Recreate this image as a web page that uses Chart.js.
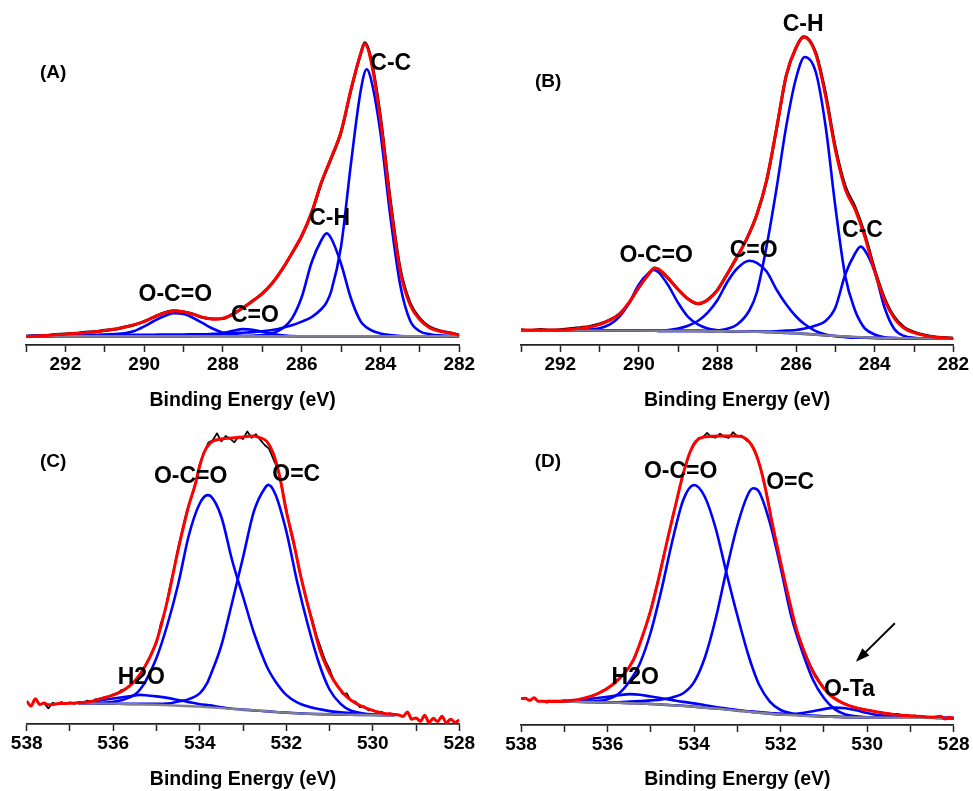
<!DOCTYPE html>
<html>
<head>
<meta charset="utf-8">
<title>XPS C 1s / O 1s curve fitting</title>
<script src="https://cdn.jsdelivr.net/npm/chart.js@4.4.1/dist/chart.umd.min.js"></script>
<style>
  body { margin: 0; background: #fff; }
  #figure { position: relative; width: 973px; height: 791px; }
  #figure canvas { position: absolute; }
</style>
</head>
<body>
<div id="figure">
  <canvas id="panelA" width="486" height="412" style="left:0;top:0"></canvas>
  <canvas id="panelB" width="487" height="412" style="left:486px;top:0"></canvas>
  <canvas id="panelC" width="486" height="379" style="left:0;top:412px"></canvas>
  <canvas id="panelD" width="487" height="378" style="left:486px;top:413px"></canvas>
</div>
<script>
// ---------- C 1s, sample A ----------
const energyA = [293, 292.75, 292.5, 292.25, 292, 291.75, 291.5, 291.25, 291, 290.75, 290.5, 290.25, 290, 289.75, 289.5, 289.25,
  289, 288.75, 288.5, 288.25, 288, 287.75, 287.5, 287.25, 287, 286.75, 286.5, 286.25, 286, 285.75, 285.5, 285.25, 285,
  284.75, 284.5, 284.4, 284.25, 284, 283.75, 283.5, 283.25, 283, 282.75, 282.5, 282.25, 282];
const measuredA = [2.9, 3.1, 3.1, 3.5, 3.7, 3.8, 4.3, 4.4, 4.9, 5.2, 6.0, 6.7, 7.9, 9.3, 10.7, 11.4, 11.0, 10.3, 9.1, 8.7,
  8.8, 10.3, 12.3, 14.7, 17.1, 20.6, 25.1, 30.5, 36.3, 44.0, 54.1, 62.3, 71.0, 85.0, 97.2, 100.8, 95.9, 75.9, 48.2, 25.4,
  14.0, 8.8, 6.0, 4.8, 4.1, 3.4];
const envelopeA = [2.8, 3.0, 3.2, 3.4, 3.6, 3.9, 4.1, 4.4, 4.8, 5.3, 5.9, 6.8, 7.8, 9.4, 10.6, 11.3, 11.1, 10.2, 9.2, 8.6,
  8.9, 10.2, 12.4, 14.6, 17.2, 20.6, 25.2, 30.6, 36.5, 44.2, 54.3, 62.5, 71.2, 85.2, 97.3, 100.4, 95.2, 75.0, 47.2, 24.6,
  13.4, 8.4, 5.7, 4.6, 4.0, 3.3];
const peakEnergyA = [293, 292, 291, 290.5, 290.25, 290, 289.75, 289.5, 289.25, 289, 288.75, 288.5, 288.25, 288, 287.75,
  287.5, 287.25, 287, 286.75, 286.5, 286.25, 286, 285.75, 285.5, 285.37, 285.25, 285, 284.75, 284.5, 284.35, 284.25, 284,
  283.75, 283.5, 283.25, 283, 282.75, 282.5, 282];
const peakCC_A = [3.0, 3.1, 3.3, 3.3, 3.4, 3.4, 3.4, 3.5, 3.5, 3.5, 3.6, 3.6, 3.7, 3.8, 3.9, 4.1, 4.3, 4.6, 5.0, 5.7,
  6.6, 7.8, 9.3, 12.0, 14.2, 18.0, 33.0, 60.5, 85.0, 91.9, 89.0, 70.6, 42.8, 20.0, 8.2, 4.6, 3.6, 3.2, 3.0];
const peakCH_A = [2.9, 2.9, 2.9, 2.9, 2.9, 2.9, 2.9, 2.9, 2.9, 2.9, 2.9, 2.9, 2.9, 2.9, 2.9, 3.0, 3.1, 3.3, 3.9, 5.4,
  8.8, 16.0, 27.5, 35.0, 37.2, 35.5, 27.0, 15.5, 7.8, 5.8, 5.0, 3.8, 3.3, 3.0, 2.9, 2.9, 2.9, 2.9, 2.9];
const peakOCO_A = [2.9, 3.1, 3.5, 3.9, 4.7, 6.2, 8.0, 9.6, 10.6, 10.3, 9.0, 7.2, 5.4, 4.1, 3.4, 3.0, 2.9, 2.9, 2.9, 2.9,
  2.9, 2.9, 2.9, 2.9, 2.9, 2.9, 2.9, 2.9, 2.9, 2.9, 2.9, 2.9, 2.9, 2.9, 2.9, 2.9, 2.9, 2.9, 2.9];
const peakCO_A = [2.9, 2.9, 2.9, 2.9, 2.9, 2.9, 2.9, 2.9, 2.9, 2.9, 3.0, 3.1, 3.4, 4.0, 4.7, 5.3, 5.1, 4.4, 3.7, 3.2,
  3.0, 2.9, 2.9, 2.9, 2.9, 2.9, 2.9, 2.9, 2.9, 2.9, 2.9, 2.9, 2.9, 2.9, 2.9, 2.9, 2.9, 2.9, 2.9];
const backgroundEnergyA = [293, 282];
const backgroundA = [2.9, 2.9];

// ---------- C 1s, sample B ----------
const energyB = [293, 292.75, 292.5, 292.25, 292, 291.75, 291.5, 291.25, 291, 290.75, 290.5, 290.25, 290, 289.75, 289.6,
  289.5, 289.25, 289, 288.75, 288.5, 288.25, 288, 287.75, 287.5, 287.25, 287, 286.75, 286.5, 286.25, 286, 285.8, 285.5,
  285.25, 285, 284.75, 284.5, 284.25, 284, 283.75, 283.5, 283.25, 283, 282.75, 282.5, 282.25, 282];
const measuredB = [5.1, 4.8, 5.2, 4.9, 5.1, 5.4, 5.8, 6.2, 7.0, 8.3, 10.3, 14.0, 19.3, 23.7, 25.7, 25.2, 22.1, 18.5, 15.4,
  13.7, 15.1, 18.4, 23.7, 29.4, 35.5, 43.4, 54.8, 71.8, 89.8, 99.1, 102.8, 97.4, 83.8, 65.8, 52.9, 46.0, 36.8, 25.1, 15.6,
  9.3, 5.9, 4.3, 3.4, 2.8, 2.5, 2.3];
const envelopeB = [5.0, 5.0, 5.0, 5.0, 5.0, 5.2, 5.6, 6.0, 6.9, 8.2, 10.2, 14.2, 19.2, 23.6, 25.6, 25.3, 22.3, 18.4, 15.3,
  13.8, 15.0, 18.3, 23.8, 29.4, 35.6, 43.5, 55.0, 72.0, 90.0, 99.2, 102.6, 97.0, 83.0, 65.0, 52.0, 45.2, 36.0, 24.5, 15.0,
  8.9, 5.6, 4.1, 3.2, 2.7, 2.4, 2.2];
const peakEnergyB = [293, 292, 291.5, 291.25, 291, 290.75, 290.5, 290.25, 290, 289.75, 289.63, 289.5, 289.25, 289, 288.75,
  288.5, 288.25, 288, 287.75, 287.5, 287.19, 287, 286.75, 286.5, 286.25, 286, 285.78, 285.5, 285.25, 285, 284.75, 284.5,
  284.36, 284.25, 284, 283.75, 283.5, 283.25, 283, 282.5, 282];
const peakOCO_B = [4.8, 4.8, 4.9, 5.2, 5.6, 6.8, 9.4, 14.0, 20.2, 24.0, 25.0, 24.2, 19.8, 14.0, 9.4, 6.9, 5.5, 4.9, 4.6,
  4.5, 4.4, 4.4, 4.3, 4.2, 4.0, 3.9, 3.7, 3.5, 3.2, 3.0, 2.8, 2.6, 2.5, 2.5, 2.4, 2.3, 2.3, 2.2, 2.2, 2.1, 2.1];
const peakCO_B = [4.8, 4.8, 4.8, 4.8, 4.8, 4.8, 4.8, 4.8, 4.8, 4.8, 4.8, 4.8, 5.0, 5.5, 6.4, 8.0, 10.8, 15.0, 21.0, 25.5,
  28.1, 27.4, 24.5, 18.5, 13.5, 9.5, 6.9, 4.6, 3.5, 2.9, 2.6, 2.4, 2.4, 2.4, 2.3, 2.3, 2.2, 2.2, 2.2, 2.1, 2.1];
const peakCH_B = [4.8, 4.8, 4.8, 4.8, 4.8, 4.8, 4.8, 4.8, 4.8, 4.8, 4.8, 4.7, 4.7, 4.7, 4.7, 4.7, 4.7, 4.8, 5.4, 6.8,
  11.5, 17.5, 33.0, 52.0, 73.0, 89.0, 96.0, 91.0, 73.0, 46.0, 23.0, 11.5, 7.6, 5.5, 3.5, 2.6, 2.3, 2.2, 2.2, 2.1, 2.1];
const peakCC_B = [4.8, 4.8, 4.8, 4.8, 4.8, 4.8, 4.8, 4.8, 4.8, 4.8, 4.8, 4.7, 4.7, 4.7, 4.7, 4.7, 4.6, 4.6, 4.6, 4.5,
  4.5, 4.5, 4.5, 4.6, 4.8, 5.0, 5.5, 6.5, 8.0, 12.5, 23.5, 30.5, 32.8, 31.5, 24.5, 12.5, 5.3, 3.0, 2.4, 2.1, 2.1];
const backgroundEnergyB = [293, 290, 289, 288, 287, 286, 285, 284, 283, 282];
const backgroundB = [4.8, 4.8, 4.7, 4.6, 4.4, 3.9, 3.0, 2.4, 2.2, 2.1];

// ---------- O 1s scans (C and D share the same energy steps) ----------
const scanEnergyO1s = [
  538, 537.9, 537.8, 537.7, 537.6, 537.5, 537.4, 537.3, 537.2, 537.1,
  537, 536.9, 536.8, 536.7, 536.6, 536.5, 536.4, 536.3, 536.2, 536.1,
  536, 535.9, 535.8, 535.7, 535.6, 535.5, 535.4, 535.3, 535.2, 535.1,
  535, 534.9, 534.8, 534.7, 534.6, 534.5, 534.4, 534.3, 534.2, 534.1,
  534, 533.9, 533.8, 533.7, 533.6, 533.5, 533.4, 533.3, 533.2, 533.1,
  533, 532.9, 532.8, 532.7, 532.6, 532.5, 532.4, 532.3, 532.2, 532.1,
  532, 531.9, 531.8, 531.7, 531.6, 531.5, 531.4, 531.3, 531.2, 531.1,
  531, 530.9, 530.8, 530.7, 530.6, 530.5, 530.4, 530.3, 530.2, 530.1,
  530, 529.9, 529.8, 529.7, 529.6, 529.5, 529.4, 529.3, 529.2, 529.1,
  529, 528.9, 528.8, 528.7, 528.6, 528.5, 528.4, 528.3, 528.2, 528.1,
  528];

// ---------- O 1s, sample C ----------
const measuredC = [
  7.6, 6.0, 8.4, 6.5, 7.0, 5.2, 7.1, 6.6, 7.3, 6.8,
  7.2, 6.7, 7.4, 7.0, 7.8, 7.5, 8.3, 8.2, 9.0, 9.1,
  9.9, 10.3, 11.4, 11.6, 13.2, 14.3, 16.3, 18.6, 20.8, 24.2,
  27.0, 33.5, 37.8, 45.2, 51.6, 58.8, 65.0, 71.0, 75.2, 80.5,
  86.8, 90.5, 93.8, 94.6, 96.9, 94.2, 96.0, 95.1, 93.9, 95.8,
  95.0, 97.5, 95.4, 96.6, 94.7, 93.0, 91.8, 88.4, 85.0, 78.6,
  71.8, 64.0, 58.2, 51.5, 45.0, 39.2, 35.0, 29.5, 25.3, 21.2,
  18.4, 14.4, 12.6, 10.0, 10.2, 7.6, 7.5, 5.6, 5.9, 4.5,
  4.7, 3.8, 4.1, 3.2, 3.6, 2.9, 3.0, 2.5, 4.0, 1.6,
  2.0, 0.9, 2.9, 0.5, 1.9, 0.8, 2.6, 0.4, 1.6, 0.5,
  1.3];
const envelopeEnergyC = [538, 537.9, 537.8, 537.7, 537.6, 537.5, 537.25, 537, 536.75, 536.5, 536.3, 536, 535.75, 535.5,
  535.25, 535, 534.75, 534.5, 534.25, 534.1, 534, 533.9, 533.75, 533.5, 533.25, 533, 532.75, 532.6, 532.45, 532.3, 532.15,
  532, 531.84, 531.68, 531.53, 531.37, 531.22, 531.07, 530.91, 530.68, 530.45, 530.14, 529.76, 529.5, 529.4, 529.3, 529.2,
  529.1, 529, 528.9, 528.8, 528.7, 528.6, 528.5, 528.4, 528.3, 528.2, 528.1, 528];
const envelopeC = [7.6, 6.0, 8.4, 6.5, 7.0, 6.4, 6.8, 6.9, 7.1, 7.5, 8.4, 9.6, 11.3, 14.3, 19.6, 27.5, 41.0, 58.0, 73.0,
  80.0, 86.0, 90.5, 93.8, 95.0, 95.3, 95.7, 96.0, 95.4, 94.2, 90.2, 82.5, 71.0, 61.3, 50.2, 41.3, 32.4, 24.6, 19.1, 14.7,
  10.2, 7.4, 5.2, 3.6, 3.2, 3.0, 2.5, 4.0, 1.6, 2.0, 0.9, 2.9, 0.5, 1.9, 0.8, 2.6, 0.4, 1.6, 0.5, 1.3];
const peakEnergyC = [536.8, 536.5, 536.25, 536, 535.75, 535.5, 535.38, 535.25, 535, 534.75, 534.5, 534.25, 534, 533.82,
  533.75, 533.5, 533.25, 533, 532.75, 532.5, 532.41, 532.25, 532, 531.75, 531.5, 531.25, 531, 530.75, 530.5, 530.25, 530,
  529.5];
const peakOCO_C = [6.9, 6.9, 7.1, 7.4, 8.2, 9.8, 11.5, 14.3, 22.0, 33.0, 46.5, 63.0, 73.5, 76.3, 76.0, 69.0, 54.5, 42.5,
  30.5, 20.8, 18.0, 14.2, 9.7, 7.2, 5.8, 5.0, 4.3, 3.9, 3.6, 3.3, 3.1, 3.0];
const peakOC_C = [6.9, 6.9, 6.8, 6.8, 6.7, 6.7, 6.7, 6.7, 6.7, 6.8, 7.5, 8.3, 10.2, 13.9, 16.3, 26.2, 40.6, 55.5, 70.8,
  78.5, 79.7, 76.5, 64.3, 47.5, 33.0, 20.5, 11.5, 6.8, 4.4, 3.6, 3.2, 3.0];
const peakH2O_C = [7.0, 7.5, 8.0, 8.5, 9.0, 9.5, 9.7, 9.6, 9.2, 8.7, 8.0, 7.3, 6.6, 6.3, 6.2, 5.6, 5.1, 4.8, 4.5, 4.3,
  4.2, 4.0, 3.8, 3.6, 3.4, 3.3, 3.2, 3.1, 3.1, 3.0, 3.0, 3.0];
const backgroundEnergyC = [536.8, 536, 535.5, 535, 534.5, 534, 533.5, 533, 532.5, 532, 531.5, 531, 530.5, 530, 529.5];
const backgroundC = [6.9, 6.8, 6.6, 6.4, 6.1, 5.8, 5.3, 4.8, 4.3, 3.8, 3.4, 3.2, 3.1, 3.0, 3.0];

// ---------- O 1s, sample D ----------
const measuredD = [
  8.8, 8.9, 8.2, 9.1, 7.9, 8.0, 7.4, 8.1, 7.6, 7.9,
  8.2, 7.7, 8.5, 8.3, 8.9, 9.0, 9.6, 9.9, 10.7, 11.6,
  12.1, 13.4, 14.8, 15.9, 17.6, 19.3, 22.0, 25.6, 29.5, 33.4,
  38.8, 44.5, 50.1, 56.8, 62.5, 69.4, 74.8, 81.2, 86.0, 90.8,
  93.5, 95.6, 95.9, 97.4, 96.0, 95.8, 97.1, 96.1, 95.7, 97.6,
  96.2, 96.5, 95.0, 94.0, 91.8, 87.6, 82.3, 75.6, 68.1, 61.0,
  54.2, 47.5, 41.6, 35.2, 30.4, 26.5, 22.8, 19.6, 16.9, 14.6,
  12.5, 10.8, 9.4, 8.6, 7.6, 7.1, 6.4, 6.0, 5.6, 5.3,
  5.0, 4.8, 4.4, 4.3, 4.0, 3.9, 3.6, 3.7, 3.3, 3.4,
  3.0, 3.2, 2.7, 3.0, 2.5, 2.8, 2.2, 2.9, 1.9, 2.6,
  2.0];
const envelopeEnergyD = [538, 537.9, 537.8, 537.7, 537.6, 537.5, 537.25, 537, 536.6, 536.2, 535.87, 535.64, 535.4, 535.17,
  534.98, 534.79, 534.6, 534.4, 534.25, 534.09, 533.94, 533.71, 533.4, 533.09, 532.86, 532.67, 532.52, 532.36, 532.21,
  532.01, 531.82, 531.63, 531.4, 531.2, 531, 530.86, 530.47, 530.01, 529.47, 528.93, 528.47, 528.3, 528.2, 528.1, 528];
const envelopeD = [8.8, 8.9, 8.2, 9.1, 7.9, 7.9, 7.8, 7.9, 8.7, 10.6, 13.6, 16.7, 21.7, 30.6, 39.4, 50.6, 62.8, 75.0, 83.9,
  91.1, 94.8, 96.1, 96.3, 96.3, 95.9, 93.3, 88.3, 79.4, 68.3, 55.0, 42.8, 31.7, 22.5, 16.3, 12.2, 10.0, 6.7, 5.0, 3.7, 3.0,
  2.6, 2.9, 2.0, 2.6, 2.1];
const peakEnergyD = [537.4, 537, 536.5, 536, 535.75, 535.48, 535.25, 535, 534.75, 534.5, 534.25, 534, 533.75, 533.5, 533.25,
  533, 532.75, 532.63, 532.5, 532.25, 532, 531.75, 531.5, 531.25, 531, 530.75, 530.5, 530.25, 530, 529.75, 529.5, 529,
  528.5, 528];
const peakOCO_D = [7.9, 7.8, 7.8, 8.6, 10.3, 14.8, 20.6, 31.0, 45.3, 61.5, 75.0, 80.0, 76.0, 65.5, 50.6, 36.5, 23.5, 18.3,
  13.5, 7.8, 5.0, 3.9, 3.3, 3.0, 2.8, 2.7, 2.6, 2.6, 2.5, 2.5, 2.5, 2.4, 2.4, 2.3];
const peakOC_D = [7.9, 7.8, 7.7, 7.6, 7.6, 7.8, 8.0, 8.2, 8.5, 9.2, 10.6, 14.3, 22.5, 35.5, 51.7, 66.5, 77.0, 78.9, 77.8,
  67.5, 52.5, 36.0, 24.5, 15.0, 9.0, 5.3, 3.5, 2.9, 2.6, 2.5, 2.5, 2.4, 2.4, 2.3];
const peakH2O_D = [8.0, 8.1, 8.6, 9.4, 9.9, 10.3, 10.1, 9.5, 8.9, 8.3, 7.7, 7.2, 6.6, 6.0, 5.5, 5.0, 4.6, 4.5, 4.3, 4.0,
  3.8, 3.5, 3.3, 3.1, 2.9, 2.8, 2.7, 2.6, 2.5, 2.5, 2.5, 2.4, 2.4, 2.3];
const peakOTa_D = [7.9, 7.8, 7.7, 7.5, 7.4, 7.3, 7.2, 7.0, 6.8, 6.6, 6.4, 6.1, 5.8, 5.5, 5.2, 4.8, 4.5, 4.3, 4.1, 3.8,
  3.5, 3.6, 4.0, 4.6, 5.3, 5.8, 5.6, 4.9, 4.0, 3.3, 2.9, 2.5, 2.4, 2.3];
const backgroundEnergyD = [537.4, 537, 536, 535, 534.5, 534, 533.5, 533, 532.5, 532, 531.5, 531, 530.5, 530, 529, 528];
const backgroundD = [7.9, 7.8, 7.5, 7.0, 6.6, 6.1, 5.5, 4.8, 4.1, 3.5, 3.1, 2.8, 2.6, 2.5, 2.4, 2.3];

const FONT = '"Liberation Sans", Arial, Helvetica, sans-serif';
Chart.defaults.font.family = FONT;

function pts(xs, ys) {
  return xs.map((x, i) => ({ x: x, y: ys[i] }));
}

// writes the peak names / panel letter and an optional arrow in data coordinates
const peakLabels = {
  id: 'peakLabels',
  afterDatasetsDraw(chart, args, opts) {
    const ctx = chart.ctx, sx = chart.scales.x, sy = chart.scales.y;
    ctx.save();
    ctx.fillStyle = '#000';
    ctx.strokeStyle = '#000';
    ctx.textAlign = 'center';
    ctx.textBaseline = 'middle';
    (opts.labels || []).forEach(function (l) {
      ctx.font = 'bold ' + l.size + 'px ' + FONT;
      ctx.fillText(l.text, sx.getPixelForValue(l.x), sy.getPixelForValue(l.y));
    });
    if (opts.arrow) {
      const x1 = sx.getPixelForValue(opts.arrow.from[0]), y1 = sy.getPixelForValue(opts.arrow.from[1]);
      const x2 = sx.getPixelForValue(opts.arrow.to[0]), y2 = sy.getPixelForValue(opts.arrow.to[1]);
      const a = Math.atan2(y2 - y1, x2 - x1), c = Math.cos(a), s = Math.sin(a);
      ctx.lineWidth = 2;
      ctx.beginPath();
      ctx.moveTo(x1, y1);
      ctx.lineTo(x2 - 9 * c, y2 - 9 * s);
      ctx.stroke();
      ctx.beginPath();
      ctx.moveTo(x2, y2);
      ctx.lineTo(x2 - 14 * c + 5 * s, y2 - 14 * s - 5 * c);
      ctx.lineTo(x2 - 14 * c - 5 * s, y2 - 14 * s + 5 * c);
      ctx.closePath();
      ctx.fill();
    }
    ctx.restore();
  }
};

function drawPanel(id, p) {
  const datasets = [
    { label: 'Envelope', data: pts(p.envelope[0], p.envelope[1]), borderColor: '#ff0000', borderWidth: 3, order: 0 },
    { label: 'Background', data: pts(p.background[0], p.background[1]), borderColor: '#80808e', borderWidth: 2.4, order: 1 }
  ];
  p.peaks.forEach(function (pk) {
    datasets.push({ label: pk[0], data: pts(p.peakEnergy, pk[1]), borderColor: '#0000ff', borderWidth: 2.6, order: 2 });
  });
  datasets.push({
    label: 'Measured', data: pts(p.measured[0], p.measured[1]), borderColor: '#000000',
    borderWidth: p.noisy ? 1.7 : 2.9, tension: 0, cubicInterpolationMode: p.noisy ? 'default' : 'monotone', order: 3
  });

  new Chart(document.getElementById(id), {
    type: 'line',
    data: { datasets: datasets },
    options: {
      responsive: false,
      animation: false,
      devicePixelRatio: 1,
      events: [],
      layout: { padding: p.padding },
      elements: {
        point: { radius: 0 },
        line: { cubicInterpolationMode: 'monotone', borderJoinStyle: 'round', fill: false }
      },
      plugins: {
        legend: { display: false },
        tooltip: { enabled: false },
        peakLabels: { labels: p.labels, arrow: p.arrow }
      },
      scales: {
        x: {
          type: 'linear',
          reverse: true,
          min: p.range[0],
          max: p.range[1],
          afterFit: function (scale) { scale.height = p.axisHeight; },
          ticks: {
            stepSize: 1, autoSkip: false, maxRotation: 0, padding: 1, color: '#000',
            font: { size: 19, weight: 'bold' },
            callback: function (v) { return v % 2 === 0 ? String(v) : ''; }
          },
          grid: { drawOnChartArea: false, drawTicks: true, tickLength: 7, tickWidth: 1.5, tickColor: '#222' },
          border: { display: true, color: '#222', width: 1.8 },
          title: {
            display: true, text: 'Binding Energy (eV)', color: '#000',
            font: { size: 19.5, weight: 'bold' }, padding: { top: 0, bottom: 0 }
          }
        },
        y: { display: false, min: 0, max: p.yMax }
      }
    },
    plugins: [peakLabels]
  });
}

drawPanel('panelA', {
  range: [282, 293], yMax: 105, axisHeight: 67,
  padding: { left: 26, right: 26.7, top: 30, bottom: 0 },
  envelope: [energyA, envelopeA], measured: [energyA, measuredA],
  background: [backgroundEnergyA, backgroundA],
  peakEnergy: peakEnergyA,
  peaks: [['C-C', peakCC_A], ['C-H', peakCH_A], ['O-C=O', peakOCO_A], ['C=O', peakCO_A]],
  labels: [
    { text: '(A)', x: 292.31, y: 90.6, size: 19 },
    { text: 'C-C', x: 283.74, y: 93.9, size: 23 },
    { text: 'C-H', x: 285.29, y: 42.0, size: 23 },
    { text: 'O-C=O', x: 289.21, y: 16.7, size: 23 },
    { text: 'C=O', x: 287.19, y: 9.9, size: 23 }
  ]
});

drawPanel('panelB', {
  range: [282, 293], yMax: 105, axisHeight: 67,
  padding: { left: 35, right: 19.7, top: 30, bottom: 0 },
  envelope: [energyB, envelopeB], measured: [energyB, measuredB],
  background: [backgroundEnergyB, backgroundB],
  peakEnergy: peakEnergyB,
  peaks: [['O-C=O', peakOCO_B], ['C=O', peakCO_B], ['C-H', peakCH_B], ['C-C', peakCC_B]],
  labels: [
    { text: '(B)', x: 292.31, y: 87.7, size: 19 },
    { text: 'C-H', x: 285.82, y: 106.8, size: 23 },
    { text: 'O-C=O', x: 289.56, y: 29.8, size: 23 },
    { text: 'C=O', x: 287.08, y: 31.6, size: 23 },
    { text: 'C-C', x: 284.31, y: 38.1, size: 23 }
  ]
});

drawPanel('panelC', {
  range: [528, 538], yMax: 100, axisHeight: 67, noisy: true,
  padding: { left: 26.7, right: 26.7, top: 12, bottom: 0 },
  envelope: [envelopeEnergyC, envelopeC], measured: [scanEnergyO1s, measuredC],
  background: [backgroundEnergyC, backgroundC],
  peakEnergy: peakEnergyC,
  peaks: [['O-C=O', peakOCO_C], ['O=C', peakOC_C], ['H2O', peakH2O_C]],
  labels: [
    { text: '(C)', x: 537.39, y: 87.4, size: 19 },
    { text: 'O-C=O', x: 534.21, y: 82.3, size: 23 },
    { text: 'O=C', x: 531.77, y: 83.1, size: 23 },
    { text: 'H2O', x: 535.35, y: 15.6, size: 23 }
  ]
});

drawPanel('panelD', {
  range: [528, 538], yMax: 100, axisHeight: 66, noisy: true,
  padding: { left: 35, right: 19.3, top: 12, bottom: 0 },
  envelope: [envelopeEnergyD, envelopeD], measured: [scanEnergyO1s, measuredD],
  background: [backgroundEnergyD, backgroundD],
  peakEnergy: peakEnergyD,
  peaks: [['O-C=O', peakOCO_D], ['O=C', peakOC_D], ['H2O', peakH2O_D], ['O-Ta', peakOTa_D]],
  labels: [
    { text: '(D)', x: 537.38, y: 87.7, size: 19 },
    { text: 'O-C=O', x: 534.31, y: 84.6, size: 23 },
    { text: 'O=C', x: 531.78, y: 80.7, size: 23 },
    { text: 'H2O', x: 535.36, y: 15.8, size: 23 },
    { text: 'O-Ta', x: 530.41, y: 11.9, size: 23 }
  ],
  arrow: { from: [529.36, 33.9], to: [530.26, 21.1] }
});
</script>
</body>
</html>
